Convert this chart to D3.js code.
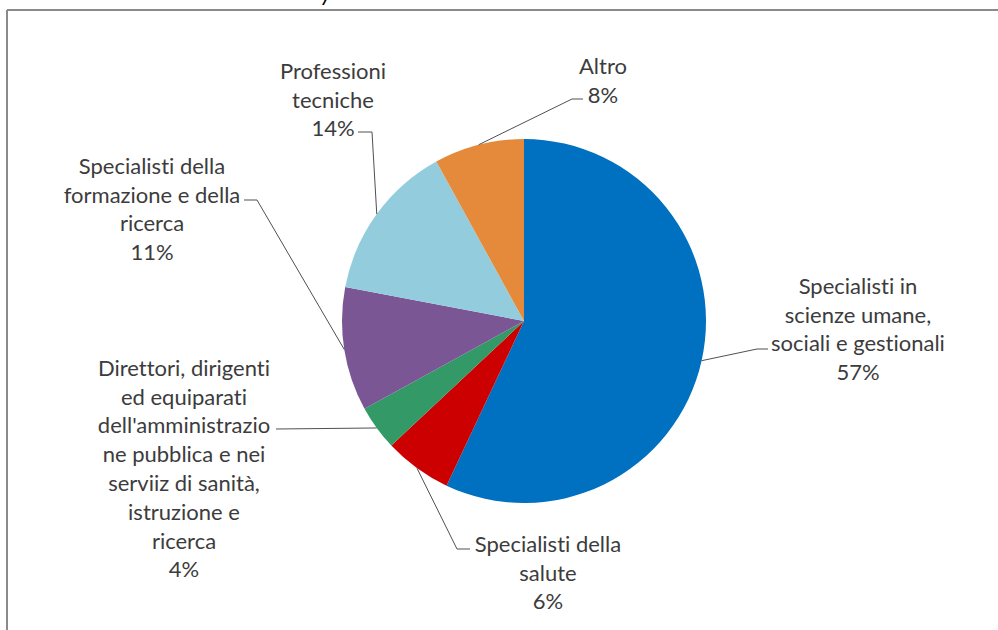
<!DOCTYPE html>
<html>
<head>
<meta charset="utf-8">
<script src="https://cdn.jsdelivr.net/npm/d3@7"></script>
<style>
  body { margin: 0; background: #fff; }
  text { font-family: Lato, "Liberation Sans", sans-serif; fill: #3c3c3c; font-variant-ligatures: none; }
</style>
</head>
<body>
<div id="pie-chart"></div>
<script>
var categories = [
    "Specialisti in scienze umane, sociali e gestionali",
    "Specialisti della salute",
    "Direttori, dirigenti ed equiparati dell'amministrazione pubblica e nei serviiz di sanità, istruzione e ricerca",
    "Specialisti della formazione e della ricerca",
    "Professioni tecniche",
    "Altro"
];
var values = [57, 6, 4, 11, 14, 8];
var labelLines = [
    ["Specialisti in", "scienze umane,", "sociali e gestionali"],
    ["Specialisti della", "salute"],
    ["Direttori, dirigenti", "ed equiparati", "dell'amministrazio", "ne pubblica e nei", "serviiz di sanità,", "istruzione e", "ricerca"],
    ["Specialisti della", "formazione e della", "ricerca"],
    ["Professioni", "tecniche"],
    ["Altro"]
];
var colors = ["#0070C0", "#CC0000", "#339966", "#7A5695", "#93CDDD", "#E5893A"];

var width = 998, height = 630;
var cx = 524, cy = 321, radius = 182;
var lineH = 28.8;

// where each label sits (centre x, first line y) and how its leader bends
var labelPos = [
    { x: 858, y: 286, elbow: [757, 349], end: [768, 349] },
    { x: 548, y: 544, elbow: [457, 549], end: [470, 549] },
    { x: 184, y: 368, elbow: null, end: [276, 429] },
    { x: 152, y: 166, elbow: [257, 200], end: [244, 200] },
    { x: 333, y: 71, elbow: [372, 132], end: [358, 132] },
    { x: 603, y: 66, elbow: [572, 99], end: [583, 99] }
];

var svg = d3.select("#pie-chart")
    .append("svg")
    .attr("width", width)
    .attr("height", height);

// frame (only top and left edges show)
svg.append("line")
    .attr("x1", 7).attr("y1", 10).attr("x2", width).attr("y2", 10)
    .attr("stroke", "#8a8a8a").attr("stroke-width", 2);
svg.append("line")
    .attr("x1", 7).attr("y1", 10).attr("x2", 7).attr("y2", height)
    .attr("stroke", "#8a8a8a").attr("stroke-width", 2);

// cut-off title above the frame
svg.append("text")
    .attr("x", 326)
    .attr("y", 1)
    .attr("font-style", "italic")
    .style("font-size", "22px")
    .style("fill", "#000")
    .attr("text-anchor", "middle")
    .text("y");

var pie = d3.pie()
    .sort(null)
    .value(function (d) { return d; });

var arcs = pie(values);

var arc = d3.arc()
    .innerRadius(0)
    .outerRadius(radius);

var edgeArc = d3.arc()
    .innerRadius(radius)
    .outerRadius(radius);

var g = svg.append("g")
    .attr("transform", "translate(" + cx + "," + cy + ")");

g.selectAll("path")
    .data(arcs)
    .enter()
    .append("path")
    .attr("d", arc)
    .attr("fill", function (d, i) { return colors[i]; });

// leader lines
arcs.forEach(function (d, i) {
    var p = edgeArc.centroid(d);
    var start = [p[0] + cx, p[1] + cy];
    var pts = [start];
    if (labelPos[i].elbow) pts.push(labelPos[i].elbow);
    pts.push(labelPos[i].end);
    svg.append("path")
        .attr("d", d3.line()(pts))
        .attr("fill", "none")
        .attr("stroke", "#505050")
        .attr("stroke-width", 1);
});

// labels
arcs.forEach(function (d, i) {
    var lines = labelLines[i].concat([values[i] + "%"]);
    var t = svg.append("text")
        .attr("text-anchor", "middle")
        .style("font-size", "22px");
    lines.forEach(function (s, k) {
        t.append("tspan")
            .attr("x", labelPos[i].x)
            .attr("y", labelPos[i].y + k * lineH)
            .attr("dy", "0.35em")
            .text(s);
    });
});
</script>
</body>
</html>
